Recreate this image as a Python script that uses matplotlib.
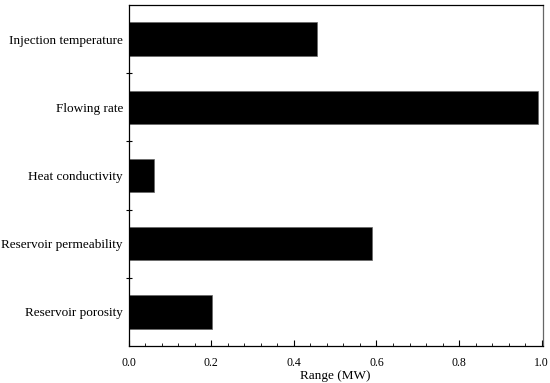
import matplotlib
matplotlib.use("Agg")
import matplotlib.pyplot as plt
from matplotlib.ticker import MultipleLocator, FixedLocator

categories = ["Injection temperature", "Flowing rate", "Heat conductivity",
              "Reservoir permeability", "Reservoir porosity"]
values = [0.456, 0.990, 0.061, 0.590, 0.201]
xticks = [0.0, 0.2, 0.4, 0.6, 0.8, 1.0]
xtick_labels = ["0.0", "0.2", "0.4", "0.6", "0.8", "1.0"]

plt.rcParams['font.family'] = ['Liberation Serif', 'DejaVu Serif']

fig = plt.figure(figsize=(5.5, 3.83), dpi=100)
ax = fig.add_axes([128.5/550, 1 - 346/383, (543 - 128.5)/550, (346 - 5)/383])

n = len(categories)
ypos = list(range(n))[::-1]
ax.barh(ypos, values, height=0.49, color='black', edgecolor='#666666', linewidth=0.5)

ax.set_ylim(-0.5, n - 0.5)
ax.set_xlim(0, 1.003)
ax.set_yticks(ypos)
ax.set_yticklabels(categories, fontsize=9.5)
ax.tick_params(axis='y', which='major', length=0, pad=4)
ax.yaxis.set_minor_locator(FixedLocator([i + 0.5 for i in range(n - 1)]))
ax.tick_params(axis='y', which='minor', length=5, width=0.8, direction='inout')

ax.set_xticks(xticks)
ax.set_xticklabels(xtick_labels, fontsize=8.5)
ax.xaxis.set_minor_locator(MultipleLocator(0.04))
ax.tick_params(axis='x', which='major', length=4, width=0.8, direction='in', pad=8)
ax.tick_params(axis='x', which='minor', length=2.5, width=0.6, direction='in')
ax.set_xlabel("Range (MW)", fontsize=9.5, labelpad=1)

for s in ax.spines.values():
    s.set_linewidth(0.9)
ax.spines['right'].set_color('#666666')

fig.savefig("out.png", dpi=100)
